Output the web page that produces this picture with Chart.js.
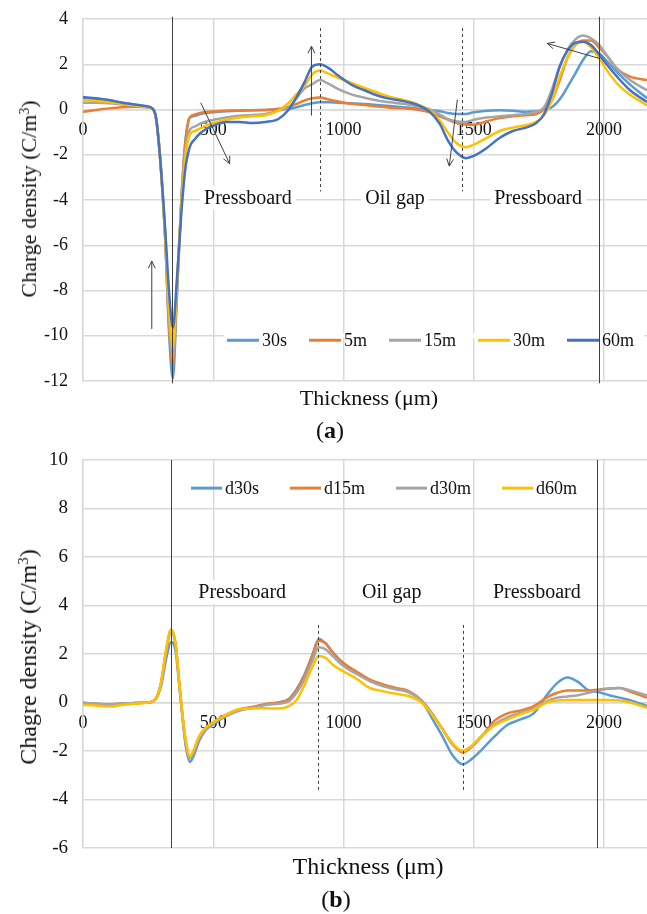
<!DOCTYPE html>
<html>
<head>
<meta charset="utf-8">
<script src="https://cdn.jsdelivr.net/npm/chart.js@4.4.1/dist/chart.umd.min.js"></script>
<style>
  body { margin: 0; background: #fff; }
  #page { position: relative; width: 647px; height: 914px; font-family: "Liberation Serif", serif; color: #111; }
  .box { position: absolute; left: 0; width: 647px; }
  .txt { position: absolute; white-space: nowrap; transform: translate(-50%, -50%); line-height: 1; }
  .ytitle { transform: translate(-50%, -50%) rotate(-90deg); }
  sup { font-size: 0.62em; vertical-align: 0.55em; line-height: 0; }
</style>
</head>
<body>
<div id="page">
  <div class="box" style="top:0;height:396px"><canvas id="chartA" width="647" height="396"></canvas></div>
  <div class="txt ytitle" style="left:29px;top:199px;font-size:22px">Charge density (C/m<sup>3</sup>)</div>
  <div class="txt" style="left:369px;top:398px;font-size:22px">Thickness (μm)</div>
  <div class="txt" style="left:330px;top:430px;font-size:24px">(<b>a</b>)</div>

  <div class="box" style="top:440px;height:424px"><canvas id="chartB" width="647" height="424"></canvas></div>
  <div class="txt ytitle" style="left:28px;top:657px;font-size:24px">Chagre density (C/m<sup>3</sup>)</div>
  <div class="txt" style="left:368px;top:866px;font-size:24px">Thickness (μm)</div>
  <div class="txt" style="left:336px;top:899px;font-size:24px">(<b>b</b>)</div>
</div>

<script>
// ---- chart (a): charge density during polarization ----
const xA = [0, 50, 100, 150, 200, 240, 265, 280, 295, 315,
  330, 345, 360, 378, 392, 410, 430, 450, 475, 500,
  550, 600, 650, 700, 750, 790, 820, 850, 880, 910,
  940, 980, 1030, 1080, 1130, 1180, 1230, 1280, 1330, 1370,
  1400, 1430, 1470, 1500, 1550, 1600, 1650, 1700, 1740, 1770,
  1800, 1830, 1860, 1890, 1920, 1950, 1980, 2010, 2050, 2100,
  2165];

const a30s = [0.5, 0.48, 0.4, 0.3, 0.2, 0.13, 0.05, -0.35, -2.0, -5.6,
  -9.8, -11.9, -8.4, -3.9, -1.5, -0.35, -0.28, -0.2, -0.15, -0.12,
  -0.08, -0.05, -0.03, -0.02, 0.0, 0.03, 0.1, 0.2, 0.28, 0.32,
  0.32, 0.3, 0.28, 0.24, 0.2, 0.15, 0.1, 0.05, -0.02, -0.08,
  -0.15, -0.2, -0.2, -0.12, -0.05, -0.03, -0.05, -0.1, -0.08, 0.0,
  0.1, 0.45, 1.0, 1.6, 2.2, 2.58, 2.5, 2.15, 1.65, 1.1,
  0.5];
const a5m = [-0.1, -0.02, 0.05, 0.1, 0.12, 0.1, 0.05, -0.35, -2.0, -5.6,
  -9.5, -11.35, -8.2, -3.9, -1.6, -0.35, -0.22, -0.15, -0.1, -0.08,
  -0.05, -0.04, -0.03, -0.02, 0.03, 0.12, 0.25, 0.4, 0.5, 0.53,
  0.45, 0.35, 0.25, 0.2, 0.13, 0.08, 0.05, 0.0, -0.12, -0.3,
  -0.45, -0.58, -0.66, -0.67, -0.52, -0.38, -0.3, -0.25, -0.2, 0.0,
  0.4, 1.3, 2.3, 2.85, 3.05, 3.05, 2.75, 2.4, 1.8, 1.45,
  1.3];
const a15m = [0.3, 0.3, 0.28, 0.22, 0.17, 0.12, 0.05, -0.35, -2.0, -5.5,
  -9.2, -11.0, -8.0, -4.0, -1.9, -0.9, -0.75, -0.62, -0.52, -0.46,
  -0.35, -0.28, -0.24, -0.2, -0.05, 0.1, 0.5, 0.92, 1.12, 1.3,
  1.15, 0.9, 0.67, 0.52, 0.4, 0.32, 0.25, 0.15, 0.02, -0.22,
  -0.42, -0.52, -0.55, -0.45, -0.35, -0.3, -0.25, -0.2, -0.1, 0.1,
  0.9, 1.9, 2.65, 3.1, 3.27, 3.15, 2.87, 2.4, 1.8, 1.3,
  0.85];
const a30m = [0.4, 0.38, 0.33, 0.25, 0.18, 0.12, 0.05, -0.35, -2.0, -5.4,
  -8.8, -10.55, -7.8, -4.2, -2.2, -1.1, -0.95, -0.83, -0.7, -0.6,
  -0.45, -0.35, -0.3, -0.25, -0.05, 0.3, 0.68, 1.05, 1.55, 1.72,
  1.6, 1.4, 1.18, 0.95, 0.75, 0.55, 0.42, 0.25, -0.04, -0.5,
  -1.0, -1.45, -1.67, -1.55, -1.25, -0.95, -0.8, -0.7, -0.55, -0.25,
  0.4, 1.45, 2.3, 2.85, 3.0, 2.75, 2.3, 1.75, 1.15, 0.65,
  0.18];
const a60m = [0.55, 0.5, 0.42, 0.3, 0.22, 0.15, 0.06, -0.35, -2.0, -5.2,
  -8.0, -9.65, -7.6, -4.5, -2.7, -1.65, -1.3, -1.05, -0.85, -0.72,
  -0.55, -0.55, -0.6, -0.55, -0.42, 0.0, 0.55, 1.2, 1.9, 2.0,
  1.85, 1.5, 1.1, 0.85, 0.62, 0.47, 0.37, 0.22, -0.09, -0.65,
  -1.35, -1.85, -2.15, -2.05, -1.7, -1.25, -0.95, -0.8, -0.6, -0.2,
  0.7, 1.9, 2.6, 2.95, 3.0, 2.85, 2.45, 2.0, 1.45, 0.85,
  0.33];

const labelsA = ["30s", "5m", "15m", "30m", "60m"];
const yTicksA = [-12, -10, -8, -6, -4, -2, 0, 2, 4];

// ---- chart (b): charge density after depolarization ----
const xB = [0, 50, 100, 150, 200, 250, 280, 300, 320, 338,
  355, 370, 385, 395, 410, 425, 445, 470, 500, 550,
  600, 650, 700, 750, 790, 820, 850, 880, 905, 930,
  960, 1000, 1050, 1100, 1150, 1200, 1250, 1300, 1340, 1380,
  1420, 1457, 1490, 1530, 1580, 1630, 1680, 1730, 1780, 1820,
  1860, 1900, 1940, 1980, 2020, 2060, 2100, 2165];

const bD30s = [-0.02, -0.05, -0.08, -0.05, -0.02, 0.0, 0.15, 0.7, 1.85, 2.5,
  2.15, 0.65, -0.95, -1.85, -2.45, -2.2, -1.6, -1.15, -0.9, -0.55,
  -0.32, -0.2, -0.08, 0.0, 0.15, 0.55, 1.15, 1.95, 2.62, 2.45,
  2.05, 1.62, 1.25, 0.92, 0.72, 0.58, 0.45, 0.05, -0.65, -1.4,
  -2.2, -2.55, -2.35, -1.95, -1.4, -0.92, -0.7, -0.45, 0.3, 0.8,
  1.03, 0.85, 0.5, 0.42, 0.3, 0.2, 0.1, -0.15];
const bD15m = [-0.05, -0.06, -0.08, -0.05, -0.02, 0.0, 0.18, 0.85, 2.2, 3.0,
  2.45, 0.75, -0.85, -1.65, -2.25, -2.0, -1.45, -1.1, -0.82, -0.5,
  -0.28, -0.18, -0.06, 0.0, 0.12, 0.5, 1.1, 1.9, 2.55, 2.45,
  2.05, 1.62, 1.28, 0.95, 0.75, 0.6, 0.47, 0.08, -0.45, -1.1,
  -1.75, -2.05, -1.85, -1.4, -0.75, -0.45, -0.33, -0.15, 0.2, 0.4,
  0.5, 0.5, 0.5, 0.53, 0.58, 0.6, 0.45, 0.2];
const bD30m = [0.0, -0.05, -0.08, -0.05, -0.02, 0.0, 0.15, 0.8, 2.15, 2.9,
  2.4, 0.72, -0.9, -1.7, -2.3, -2.05, -1.5, -1.12, -0.85, -0.55,
  -0.33, -0.22, -0.1, -0.05, 0.05, 0.4, 0.95, 1.7, 2.28, 2.2,
  1.9, 1.5, 1.18, 0.88, 0.68, 0.55, 0.42, 0.08, -0.45, -1.1,
  -1.75, -2.0, -1.82, -1.4, -0.9, -0.6, -0.42, -0.25, 0.05, 0.2,
  0.25, 0.3, 0.4, 0.5, 0.58, 0.6, 0.5, 0.3];
const bD60m = [-0.1, -0.12, -0.17, -0.1, -0.05, 0.0, 0.15, 0.85, 2.25, 3.0,
  2.45, 0.75, -0.8, -1.6, -2.22, -1.95, -1.4, -1.05, -0.82, -0.5,
  -0.28, -0.25, -0.24, -0.25, -0.15, 0.1, 0.72, 1.45, 1.92, 1.85,
  1.55, 1.28, 0.98, 0.6, 0.47, 0.36, 0.27, 0.0, -0.5, -1.1,
  -1.7, -2.0, -1.8, -1.38, -0.95, -0.7, -0.48, -0.3, 0.0, 0.08,
  0.1, 0.1, 0.1, 0.1, 0.1, 0.08, 0.0, -0.22];

const labelsB = ["d30s", "d15m", "d30m", "d60m"];
const yTicksB = [-6, -4, -2, 0, 2, 4, 6, 8, 10];

const xTicks = [0, 500, 1000, 1500, 2000];
const regionNames = ["Pressboard", "Oil gap", "Pressboard"];

// annotation anchors, in data units
const regionXA = [633, 1198, 1747];
const regionXB = [611, 1185, 1742];
const interfaceA = [342, 1981];
const interfaceB = [336, 1973];
const dashedA = [911, 1456];
const dashedB = [904, 1457];
const arrowsA = [
  [264, -9.7, 264, -6.7],
  [452, 0.3, 563, -2.4],
  [877, -0.27, 877, 2.8],
  [1437, 0.44, 1406, -2.5],
  [1981, 2.26, 1782, 2.92],
];

const COLORS = ["#5B9BD5", "#ED7D31", "#A5A5A5", "#FFC000", "#4472C4"];
const GRID = "#d9d9d9";
const INK = "#404040";
const FONT = "Liberation Serif";

function arrow(ctx, x0, y0, x1, y1) {
  const ang = Math.atan2(y1 - y0, x1 - x0);
  const len = 8;
  ctx.beginPath();
  ctx.moveTo(x0, y0);
  ctx.lineTo(x1, y1);
  ctx.moveTo(x1 - len * Math.cos(ang - 0.45), y1 - len * Math.sin(ang - 0.45));
  ctx.lineTo(x1, y1);
  ctx.lineTo(x1 - len * Math.cos(ang + 0.45), y1 - len * Math.sin(ang + 0.45));
  ctx.stroke();
}

function makeOverlay(cfg) {
  return {
    id: "overlay",
    afterDatasetsDraw(chart) {
      const { ctx, chartArea } = chart;
      const sx = chart.scales.x;
      const sy = chart.scales.y;
      ctx.save();

      // region captions on white boxes
      ctx.font = `20px "${FONT}"`;
      ctx.textAlign = "center";
      ctx.textBaseline = "middle";
      regionNames.forEach((name, i) => {
        const px = sx.getPixelForValue(cfg.regionX[i]);
        const py = sy.getPixelForValue(cfg.regionY);
        const w = ctx.measureText(name).width + 8;
        ctx.fillStyle = "#fff";
        ctx.fillRect(px - w / 2, py - 12, w, 24);
        ctx.fillStyle = "#111";
        ctx.fillText(name, px, py + 1);
      });

      // legend hides the gridline it sits on (chart a only)
      const lg = cfg.legend;
      const ly = sy.getPixelForValue(lg.y);
      ctx.font = `18px "${FONT}"`;
      if (lg.fill) {
        const gy = sy.getPixelForValue(lg.coverTick);
        ctx.fillStyle = "#fff";
        ctx.fillRect(chartArea.left + lg.dx - 3, gy - 2, lg.fill, 4);
      }

      // interface lines
      ctx.strokeStyle = INK;
      ctx.lineWidth = 1;
      cfg.interfaces.forEach((v) => {
        const px = Math.round(sx.getPixelForValue(v)) + 0.5;
        ctx.beginPath();
        ctx.moveTo(px, sy.getPixelForValue(cfg.solidTop));
        ctx.lineTo(px, sy.getPixelForValue(cfg.solidBottom));
        ctx.stroke();
      });

      ctx.setLineDash([3, 3]);
      cfg.dashed.forEach((v) => {
        const px = Math.round(sx.getPixelForValue(v)) + 0.5;
        ctx.beginPath();
        ctx.moveTo(px, sy.getPixelForValue(cfg.dashTop));
        ctx.lineTo(px, sy.getPixelForValue(cfg.dashBottom));
        ctx.stroke();
      });
      ctx.setLineDash([]);

      (cfg.arrows || []).forEach((a) => {
        arrow(ctx, sx.getPixelForValue(a[0]), sy.getPixelForValue(a[1]),
          sx.getPixelForValue(a[2]), sy.getPixelForValue(a[3]));
      });

      // legend entries
      let lx = chartArea.left + lg.dx;
      ctx.textAlign = "left";
      ctx.textBaseline = "middle";
      chart.data.datasets.forEach((ds) => {
        ctx.strokeStyle = ds.borderColor;
        ctx.lineWidth = 3;
        ctx.beginPath();
        ctx.moveTo(lx, ly);
        ctx.lineTo(lx + lg.line, ly);
        ctx.stroke();
        ctx.fillStyle = "#111";
        ctx.fillText(ds.label, lx + lg.line + 3, ly + 1);
        lx += lg.line + 3 + ctx.measureText(ds.label).width + lg.gap;
      });
      ctx.restore();
    },
  };
}

function buildChart(id, xs, series, labels, colors, yTicks, pad, tickSize, overlayCfg) {
  const datasets = series.map((s, i) => ({
    label: labels[i],
    data: xs.map((x, j) => ({ x, y: s[j] })),
    borderColor: colors[i],
    backgroundColor: colors[i],
    borderWidth: 2.5,
    pointRadius: 0,
    cubicInterpolationMode: "monotone",
    order: series.length - i,
  }));

  return new Chart(document.getElementById(id), {
    type: "line",
    data: { datasets },
    options: {
      responsive: false,
      animation: false,
      events: [],
      layout: { padding: pad },
      plugins: { legend: { display: false }, tooltip: { enabled: false } },
      scales: {
        x: {
          type: "linear",
          min: 0,
          max: 2165,
          position: { y: 0 },
          afterBuildTicks: (s) => { s.ticks = xTicks.map((v) => ({ value: v })); },
          afterFit: (s) => {
            s.height = 0;
            s.paddingTop = 0; s.paddingBottom = 0; s.paddingLeft = 0; s.paddingRight = 0;
          },
          grid: { color: GRID, lineWidth: 1.5, drawTicks: false },
          border: { color: GRID, width: 1.5 },
          ticks: {
            font: { family: FONT, size: 18 }, color: "#111", padding: 10,
            maxRotation: 0, autoSkip: false, callback: (v) => String(v),
          },
        },
        y: {
          min: yTicks[0],
          max: yTicks[yTicks.length - 1],
          afterBuildTicks: (s) => { s.ticks = yTicks.map((v) => ({ value: v })); },
          afterFit: (s) => {
            s.width = 83;
            s.paddingTop = 0; s.paddingBottom = 0;
          },
          grid: { color: GRID, lineWidth: 1.5, drawTicks: false },
          border: { color: GRID, width: 1.5 },
          ticks: { font: { family: FONT, size: tickSize }, color: "#111", padding: 15, callback: (v) => String(v) },
        },
      },
    },
    plugins: [makeOverlay(overlayCfg)],
  });
}

buildChart("chartA", xA, [a30s, a5m, a15m, a30m, a60m], labelsA, COLORS, yTicksA,
  { top: 19, bottom: 15, left: 0, right: 0 }, 18, {
    regionX: regionXA, regionY: -3.9,
    interfaces: interfaceA, solidTop: 4.1, solidBottom: -12.1,
    dashed: dashedA, dashTop: 3.6, dashBottom: -3.62,
    arrows: arrowsA,
    legend: { dx: 144, y: -10.2, line: 32, gap: 22, fill: 420, coverTick: -10 },
  });

buildChart("chartB", xB, [bD30s, bD15m, bD30m, bD60m], labelsB, COLORS.slice(0, 4), yTicksB,
  { top: 20, bottom: 16, left: 0, right: 0 }, 19, {
    regionX: regionXB, regionY: 4.56,
    interfaces: interfaceB, solidTop: 10, solidBottom: -6,
    dashed: dashedB, dashTop: 3.2, dashBottom: -3.72,
    arrows: [],
    legend: { dx: 108, y: 8.84, line: 31, gap: 31, fill: 0 },
  });
</script>
</body>
</html>
